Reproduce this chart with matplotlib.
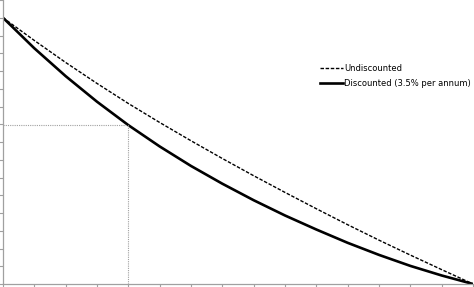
import matplotlib.pyplot as plt

years = list(range(16))
undiscounted = [15, 13.72, 12.48, 11.3, 10.17, 9.1, 8.07, 7.07, 6.1, 5.16, 4.24, 3.34, 2.47, 1.63, 0.81, 0]
discounted = [15, 13.28, 11.71, 10.27, 8.95, 7.75, 6.65, 5.65, 4.72, 3.86, 3.07, 2.32, 1.64, 1.02, 0.48, 0]
mark_year = 4
mark_value = discounted[mark_year]

fig = plt.figure(figsize=(4.74, 2.87), dpi=100)
ax = fig.add_axes([3 / 474, 3 / 287, 470 / 474, 284 / 287])

ax.plot(years, undiscounted, color='black', lw=1.0, linestyle=(0, (2.5, 1.2)), label='Undiscounted')
ax.plot(years, discounted, color='black', lw=1.9, label='Discounted (3.5% per annum)')

# reference lines
ax.plot([0, mark_year], [mark_value, mark_value], color='#a0a0a0', lw=0.8, linestyle=(0, (1, 1)))
ax.plot([mark_year, mark_year], [0, mark_value], color='#a0a0a0', lw=0.8, linestyle=(0, (1, 1)))

ax.set_xlim(0, 15)
ax.set_ylim(0, 16)
ax.set_xticks(range(16))
ax.set_yticks(range(17))
ax.set_xticklabels([])
ax.set_yticklabels([])
ax.tick_params(direction='out', length=3, width=0.8, color='#a0a0a0')
for side in ['top', 'right']:
    ax.spines[side].set_visible(False)
for side in ['left', 'bottom']:
    ax.spines[side].set_color('#a0a0a0')
    ax.spines[side].set_linewidth(0.9)

ax.legend(loc='upper left', bbox_to_anchor=(0.665, 0.79), frameon=False, fontsize=6,
          handlelength=2.8, handletextpad=0.15, labelspacing=0.75, borderpad=0)

plt.savefig('out.png', dpi=100)
